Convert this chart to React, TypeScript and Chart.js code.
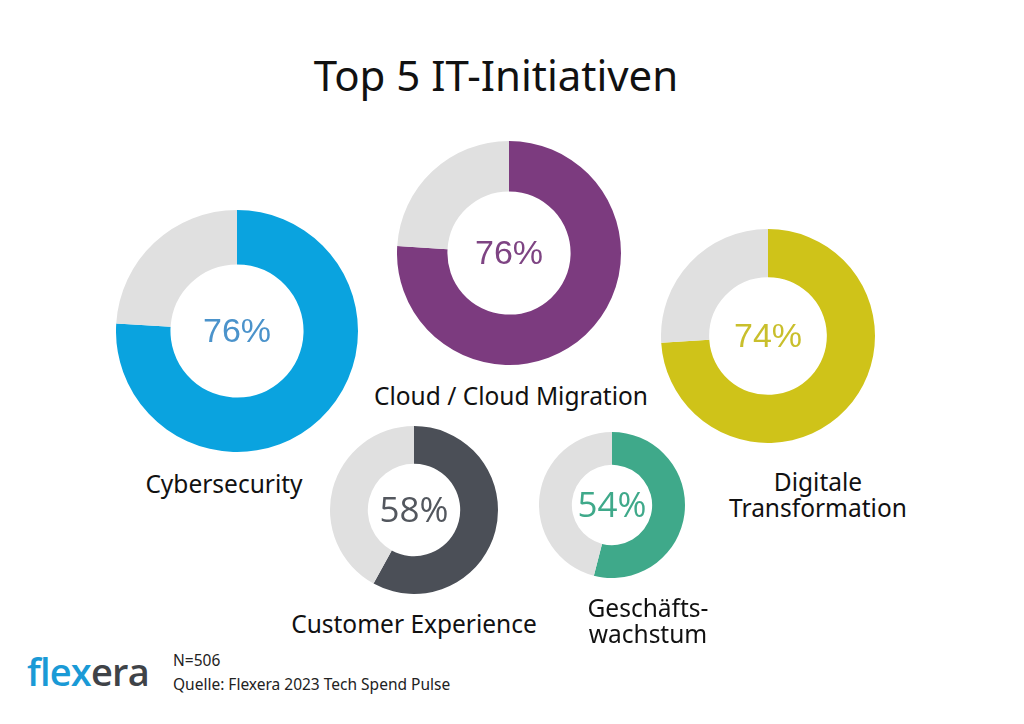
import React, { useEffect, useRef } from "react";
import { Chart, registerables } from "chart.js";

Chart.register(...registerables);

const categories = ["Cybersecurity", "Cloud / Cloud Migration", "Digitale\nTransformation", "Customer Experience", "Geschäfts-\nwachstum"];
const values = [76, 76, 74, 58, 54];
const colors = ["#0aa3df", "#7c3b7f", "#cfc319", "#4b4f57", "#3fa98a"];
const textColors = ["#4b93cb", "#7e4483", "#c9bf2c", "#53575e", "#3fa98a"];
const remainderColor = "#e0e0e0";

// layout (center x, center y, radius) per donut
const centers = [
  [237, 331, 121],
  [509, 253, 112],
  [768, 336, 107],
  [414, 510, 84],
  [612, 505, 73],
];
const labelPos = [
  [224, 484],
  [511, 396],
  [818, 495],
  [414, 624],
  [648, 621],
];
const pctFont = ["Liberation Sans", "Liberation Sans", "Liberation Sans", "Open Sans", "Open Sans"];
const pctSize = [34, 34, 34, 35, 35];

const centerText = {
  id: "centerText",
  afterDraw(chart: any, _args: any, opts: any) {
    const meta = chart.getDatasetMeta(0);
    const arc = meta.data[0];
    if (!arc) return;
    const { x, y } = arc;
    const ctx = chart.ctx;
    ctx.save();
    ctx.font = `${opts.size}px "${opts.family}"`;
    ctx.fillStyle = opts.color;
    ctx.textAlign = "center";
    ctx.textBaseline = "middle";
    ctx.fillText(`${chart.data.datasets[0].data[0]}%`, x, y + 2);
    ctx.restore();
  },
};

function Donut({ i }: { i: number }) {
  const ref = useRef<HTMLCanvasElement>(null);
  const [cx, cy, r] = centers[i];
  useEffect(() => {
    const chart = new Chart(ref.current!, {
      type: "doughnut",
      data: {
        labels: [categories[i], "Rest"],
        datasets: [
          {
            data: [values[i], 100 - values[i]],
            backgroundColor: [colors[i], remainderColor],
            borderWidth: 0,
          },
        ],
      },
      options: {
        responsive: false,
        animation: false,
        cutout: "55%",
        layout: { padding: 0 },
        plugins: {
          legend: { display: false },
          tooltip: { enabled: false },
          centerText: { color: textColors[i], family: pctFont[i], size: pctSize[i] },
        } as any,
      },
      plugins: [centerText],
    });
    return () => chart.destroy();
  }, []);
  return (
    <canvas
      ref={ref}
      width={2 * r}
      height={2 * r}
      style={{ position: "absolute", left: cx - r, top: cy - r, width: 2 * r, height: 2 * r }}
    />
  );
}

export default function App() {
  const label: React.CSSProperties = {
    position: "absolute",
    fontFamily: '"Noto Sans", sans-serif',
    fontSize: 24.5,
    color: "#111",
    textAlign: "center",
    whiteSpace: "pre",
    lineHeight: "26px",
    transform: "translate(-50%, -50%)",
  };
  return (
    <div style={{ position: "absolute", left: 0, top: 0, width: 1024, height: 724, background: "#fff", overflow: "hidden" }}>
      <div
        style={{
          position: "absolute",
          left: 0,
          width: 1024,
          top: 46,
          textAlign: "center",
          fontFamily: '"Noto Sans", sans-serif',
          fontSize: 42,
          color: "#111",
          paddingRight: 32,
          boxSizing: "border-box",
        }}
      >
        Top 5 IT-Initiativen
      </div>
      {values.map((_, i) => (
        <Donut key={i} i={i} />
      ))}
      {categories.map((c, i) => (
        <div key={c} style={{ ...label, left: labelPos[i][0], top: labelPos[i][1] }}>
          {c}
        </div>
      ))}
      <div
        style={{
          position: "absolute",
          left: 27,
          top: 645,
          fontFamily: '"Open Sans", sans-serif',
          fontSize: 38,
          fontWeight: 600,
          letterSpacing: -0.8,
        }}
      >
        <span style={{ color: "#1a9ad6" }}>flex</span>
        <span style={{ color: "#3f4348" }}>era</span>
      </div>
      <div
        style={{
          position: "absolute",
          left: 173,
          top: 648,
          fontFamily: '"Noto Sans", sans-serif',
          fontSize: 15.5,
          color: "#222",
          lineHeight: "24px",
        }}
      >
        N=506
        <br />
        Quelle: Flexera 2023 Tech Spend Pulse
      </div>
    </div>
  );
}
